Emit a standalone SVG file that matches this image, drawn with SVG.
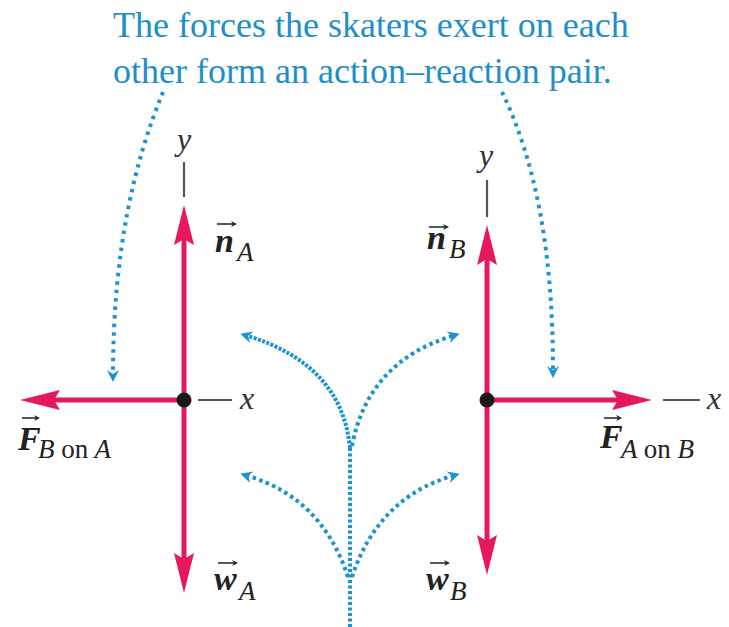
<svg xmlns="http://www.w3.org/2000/svg" width="729" height="627" viewBox="0 0 729 627">
<style>
.title{font-family:"Liberation Serif","Times New Roman","DejaVu Serif",serif;font-size:36px;fill:#1e8ec8}
.ax{font-family:"Liberation Serif","Times New Roman","DejaVu Serif",serif;font-style:italic;font-size:32px;fill:#333}
.vec{font-family:"Liberation Serif","Times New Roman","DejaVu Serif",serif;font-style:italic;font-weight:bold;font-size:34px;fill:#222}
.sub{font-family:"Liberation Serif","Times New Roman","DejaVu Serif",serif;font-style:italic;font-size:27px;fill:#222}
.subr{font-style:normal}
.axis{stroke:#555;stroke-width:2.2;fill:none}
.force{stroke:#e8185c;stroke-width:5;fill:none;marker-end:url(#redHead)}
.dot{stroke:#1a93d0;stroke-width:4;fill:none;stroke-dasharray:3.5 5;marker-end:url(#blueHead)}
.dot2{stroke:#1a93d0;stroke-width:4;fill:none;stroke-dasharray:3.5 3.5;marker-end:url(#blueHead)}
.dense{stroke:#1a93d0;stroke-width:4;fill:none;stroke-dasharray:3 1.5;marker-end:url(#blueHead)}
.acc{stroke:#222;stroke-width:1.5;fill:none;marker-end:url(#accHead)}
</style>
<defs>
<marker id="redHead" markerUnits="userSpaceOnUse" markerWidth="42" markerHeight="24" refX="6" refY="11" orient="auto">
<path d="M40,11 L0,1 L6,11 L0,21 Z" fill="#e8185c"/>
</marker>
<marker id="blueHead" markerUnits="userSpaceOnUse" markerWidth="14" markerHeight="14" refX="4" refY="6" orient="auto">
<path d="M12,6 L0,0 L4,6 L0,12 Z" fill="#1a93d0"/>
</marker>
<marker id="accHead" markerUnits="userSpaceOnUse" markerWidth="8" markerHeight="8" refX="2" refY="3" orient="auto">
<path d="M6,3 L0,0 L2,3 L0,6 Z" fill="#222"/>
</marker>
</defs>

<g id="caption">
<text class="title" x="113" y="37">The forces the skaters exert on each</text>
<text class="title" x="113" y="83">other form an action–reaction pair.</text>
</g>

<g id="connectors">
<path class="dot" d="M163,92 C135,160 113,250 113,374"/>
<path class="dot" d="M502,92 C535,160 553,250 553,370"/>
<path class="dense" d="M350,448 Q342,365 248,336"/>
<path class="dot2" d="M352,446 Q368,362 452,336"/>
<path class="dot2" d="M348,577 Q322,498 248,476"/>
<path class="dot2" d="M352,577 Q378,498 452,476"/>
<path d="M350,627 L350,446" stroke="#1a93d0" stroke-width="4" stroke-dasharray="3 2.5" fill="none"/>
</g>

<g id="skaterA">
<line class="axis" x1="184" y1="162" x2="184" y2="197"/>
<line class="axis" x1="198" y1="400" x2="232" y2="400"/>
<text class="ax" x="184" y="150" text-anchor="middle">y</text>
<text class="ax" x="240" y="409">x</text>
<path class="force" d="M184,400 L184,239"/>
<path class="force" d="M184,400 L184,559"/>
<path class="force" d="M184,400 L54,400"/>
<circle cx="184" cy="400" r="7.5" fill="#1a1a1a"/>
</g>

<g id="skaterB">
<line class="axis" x1="487" y1="180" x2="487" y2="217"/>
<line class="axis" x1="663" y1="400" x2="700" y2="400"/>
<text class="ax" x="486" y="166" text-anchor="middle">y</text>
<text class="ax" x="707" y="409">x</text>
<path class="force" d="M487,400 L487,259"/>
<path class="force" d="M487,400 L487,541"/>
<path class="force" d="M487,400 L618,400"/>
<circle cx="487" cy="400" r="7.5" fill="#1a1a1a"/>
</g>

<g id="label-nA">
<line class="acc" x1="217" y1="224" x2="233" y2="224"/>
<text class="vec" x="215" y="252">n</text>
<text class="sub" x="237" y="261">A</text>
</g>
<g id="label-wA">
<line class="acc" x1="218" y1="563" x2="234" y2="563"/>
<text class="vec" x="214" y="590">w</text>
<text class="sub" x="239" y="600">A</text>
</g>
<g id="label-FBA">
<line class="acc" x1="22" y1="418" x2="36" y2="418"/>
<text class="vec" x="18" y="450">F</text>
<text class="sub" x="38" y="458">B <tspan class="subr">on</tspan> A</text>
</g>
<g id="label-nB">
<line class="acc" x1="429" y1="227" x2="445" y2="227"/>
<text class="vec" x="427" y="249">n</text>
<text class="sub" x="449" y="258">B</text>
</g>
<g id="label-wB">
<line class="acc" x1="430" y1="563" x2="446" y2="563"/>
<text class="vec" x="426" y="590">w</text>
<text class="sub" x="450" y="600">B</text>
</g>
<g id="label-FAB">
<line class="acc" x1="604" y1="418" x2="618" y2="418"/>
<text class="vec" x="600" y="448">F</text>
<text class="sub" x="621" y="458">A <tspan class="subr">on</tspan> B</text>
</g>
</svg>
